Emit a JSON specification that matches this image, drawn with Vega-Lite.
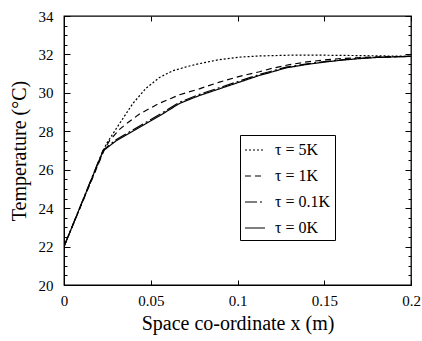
{
 "$schema": "https://vega.github.io/schema/vega-lite/v6.json",
 "width": 347, "height": 269,
 "autosize": "none",
 "padding": {"left": 64, "top": 16, "right": 11, "bottom": 56},
 "config": {
  "view": {"stroke": "black", "strokeWidth": 1.3},
  "font": "Liberation Serif",
  "axis": {"grid": false, "domainColor": "black", "tickColor": "black", "labelColor": "black", "titleColor": "black", "labelFont": "Liberation Serif", "titleFont": "Liberation Serif", "titleFontWeight": "normal", "labelFontSize": 15, "titleFontSize": 20, "tickWidth": 1},
  "legend": {"labelFont": "Liberation Serif"}
 },
 "data": {"values": [
  {"s": "τ = 5K", "x": 0, "t": 22},
  {"s": "τ = 5K", "x": 0.0243, "t": 27.33},
  {"s": "τ = 5K", "x": 0.032, "t": 28.4},
  {"s": "τ = 5K", "x": 0.0397, "t": 29.45},
  {"s": "τ = 5K", "x": 0.0474, "t": 30.25},
  {"s": "τ = 5K", "x": 0.055, "t": 30.8},
  {"s": "τ = 5K", "x": 0.0627, "t": 31.15},
  {"s": "τ = 5K", "x": 0.0723, "t": 31.4},
  {"s": "τ = 5K", "x": 0.078, "t": 31.52},
  {"s": "τ = 5K", "x": 0.0896, "t": 31.73},
  {"s": "τ = 5K", "x": 0.1012, "t": 31.86},
  {"s": "τ = 5K", "x": 0.1127, "t": 31.92},
  {"s": "τ = 5K", "x": 0.13, "t": 31.96},
  {"s": "τ = 5K", "x": 0.15, "t": 31.96},
  {"s": "τ = 5K", "x": 0.17, "t": 31.94},
  {"s": "τ = 5K", "x": 0.2, "t": 31.9},
  {"s": "τ = 1K", "x": 0, "t": 22},
  {"s": "τ = 1K", "x": 0.0235, "t": 27.1},
  {"s": "τ = 1K", "x": 0.0262, "t": 27.5},
  {"s": "τ = 1K", "x": 0.032, "t": 28.1},
  {"s": "τ = 1K", "x": 0.0358, "t": 28.38},
  {"s": "τ = 1K", "x": 0.0435, "t": 28.9},
  {"s": "τ = 1K", "x": 0.055, "t": 29.46},
  {"s": "τ = 1K", "x": 0.0666, "t": 29.9},
  {"s": "τ = 1K", "x": 0.078, "t": 30.21},
  {"s": "τ = 1K", "x": 0.0896, "t": 30.56},
  {"s": "τ = 1K", "x": 0.1012, "t": 30.86},
  {"s": "τ = 1K", "x": 0.1127, "t": 31.1},
  {"s": "τ = 1K", "x": 0.12, "t": 31.28},
  {"s": "τ = 1K", "x": 0.13, "t": 31.47},
  {"s": "τ = 1K", "x": 0.14, "t": 31.61},
  {"s": "τ = 1K", "x": 0.15, "t": 31.71},
  {"s": "τ = 1K", "x": 0.16, "t": 31.79},
  {"s": "τ = 1K", "x": 0.18, "t": 31.87},
  {"s": "τ = 1K", "x": 0.2, "t": 31.9},
  {"s": "τ = 0.1K", "x": 0, "t": 22},
  {"s": "τ = 0.1K", "x": 0.0225, "t": 27.02},
  {"s": "τ = 0.1K", "x": 0.03, "t": 27.56},
  {"s": "τ = 0.1K", "x": 0.0416, "t": 28.17},
  {"s": "τ = 0.1K", "x": 0.055, "t": 28.87},
  {"s": "τ = 0.1K", "x": 0.0666, "t": 29.51},
  {"s": "τ = 0.1K", "x": 0.078, "t": 29.92},
  {"s": "τ = 0.1K", "x": 0.0896, "t": 30.27},
  {"s": "τ = 0.1K", "x": 0.1012, "t": 30.62},
  {"s": "τ = 0.1K", "x": 0.1127, "t": 30.96},
  {"s": "τ = 0.1K", "x": 0.1184, "t": 31.1},
  {"s": "τ = 0.1K", "x": 0.128, "t": 31.34},
  {"s": "τ = 0.1K", "x": 0.14, "t": 31.51},
  {"s": "τ = 0.1K", "x": 0.15, "t": 31.63},
  {"s": "τ = 0.1K", "x": 0.16, "t": 31.72},
  {"s": "τ = 0.1K", "x": 0.17, "t": 31.8},
  {"s": "τ = 0.1K", "x": 0.18, "t": 31.85},
  {"s": "τ = 0.1K", "x": 0.2, "t": 31.9},
  {"s": "τ = 0K", "x": 0, "t": 22},
  {"s": "τ = 0K", "x": 0.0225, "t": 26.98},
  {"s": "τ = 0K", "x": 0.03, "t": 27.5},
  {"s": "τ = 0K", "x": 0.0416, "t": 28.1},
  {"s": "τ = 0K", "x": 0.055, "t": 28.8},
  {"s": "τ = 0K", "x": 0.0666, "t": 29.45},
  {"s": "τ = 0K", "x": 0.078, "t": 29.86},
  {"s": "τ = 0K", "x": 0.0896, "t": 30.21},
  {"s": "τ = 0K", "x": 0.1012, "t": 30.56},
  {"s": "τ = 0K", "x": 0.1127, "t": 30.91},
  {"s": "τ = 0K", "x": 0.1184, "t": 31.05},
  {"s": "τ = 0K", "x": 0.128, "t": 31.3},
  {"s": "τ = 0K", "x": 0.14, "t": 31.48},
  {"s": "τ = 0K", "x": 0.15, "t": 31.6},
  {"s": "τ = 0K", "x": 0.16, "t": 31.7},
  {"s": "τ = 0K", "x": 0.17, "t": 31.78},
  {"s": "τ = 0K", "x": 0.18, "t": 31.84},
  {"s": "τ = 0K", "x": 0.2, "t": 31.9}
 ]},
 "layer": [
  {
   "mark": {"type": "line", "color": "black", "clip": true},
   "encoding": {
    "x": {"field": "x", "type": "quantitative", "scale": {"domain": [0, 0.2], "nice": false},
          "axis": {"orient": "bottom", "title": "Space co-ordinate x (m)", "values": [0, 0.05, 0.1, 0.15, 0.2], "format": "~g", "ticks": false, "labelPadding": 8, "labelFlush": false, "titlePadding": 5}},
    "y": {"field": "t", "type": "quantitative", "scale": {"domain": [20, 34], "nice": false, "zero": false},
          "axis": {"orient": "left", "title": "Temperature (°C)", "values": [20, 22, 24, 26, 28, 30, 32, 34], "format": "~g", "ticks": false, "labelPadding": 11, "titlePadding": 9}},
    "strokeDash": {"field": "s", "type": "nominal",
                   "scale": {"domain": ["τ = 5K", "τ = 1K", "τ = 0.1K", "τ = 0K"], "range": [[2, 2], [6, 4], [12, 3, 2, 3], [1, 0]]},
                   "legend": {"title": null, "orient": "none", "legendX": 176, "legendY": 119, "strokeColor": "black", "fillColor": "white", "padding": 4, "labelFontSize": 16, "symbolSize": 400, "symbolStrokeColor": "black", "symbolStrokeWidth": 1.2, "rowPadding": 7, "labelOffset": 9}},
    "strokeWidth": {"field": "s", "type": "nominal",
                   "scale": {"domain": ["τ = 5K", "τ = 1K", "τ = 0.1K", "τ = 0K"], "range": [1.2, 1.2, 1.3, 0.8]},
                   "legend": null}
   }
  },
  {
   "mark": {"type": "line", "opacity": 0},
   "encoding": {
    "detail": {"field": "s"},
    "x": {"field": "x", "type": "quantitative", "scale": {"domain": [0, 0.2], "nice": false},
          "axis": {"orient": "top", "offset": -269, "title": null, "labels": false, "domain": false, "values": [0, 0.05, 0.1, 0.15, 0.2], "tickSize": 5}},
    "y": {"field": "t", "type": "quantitative", "scale": {"domain": [20, 34], "nice": false, "zero": false},
          "axis": {"orient": "right", "offset": -347, "title": null, "labels": false, "domain": false, "values": [20, 20.5, 21, 21.5, 22, 22.5, 23, 23.5, 24, 24.5, 25, 25.5, 26, 26.5, 27, 27.5, 28, 28.5, 29, 29.5, 30, 30.5, 31, 31.5, 32, 32.5, 33, 33.5, 34],
                   "tickSize": {"condition": {"test": "datum.value % 2 == 0", "value": 6}, "value": 3}}}
   }
  },
  {
   "mark": {"type": "line", "opacity": 0},
   "encoding": {
    "detail": {"field": "s"},
    "x": {"field": "x", "type": "quantitative", "scale": {"domain": [0, 0.2], "nice": false},
          "axis": {"orient": "bottom", "offset": -269, "title": null, "labels": false, "domain": false, "values": [0, 0.05, 0.1, 0.15, 0.2], "tickSize": 5}},
    "y": {"field": "t", "type": "quantitative", "scale": {"domain": [20, 34], "nice": false, "zero": false},
          "axis": {"orient": "left", "offset": -347, "title": null, "labels": false, "domain": false, "values": [20, 20.5, 21, 21.5, 22, 22.5, 23, 23.5, 24, 24.5, 25, 25.5, 26, 26.5, 27, 27.5, 28, 28.5, 29, 29.5, 30, 30.5, 31, 31.5, 32, 32.5, 33, 33.5, 34],
                   "tickSize": {"condition": {"test": "datum.value % 2 == 0", "value": 6}, "value": 3}}}
   }
  }
 ],
 "resolve": {"axis": {"x": "independent", "y": "independent"}}
}
